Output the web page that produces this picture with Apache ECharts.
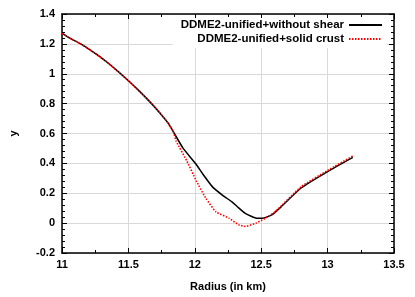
<!DOCTYPE html>
<html><head><meta charset="utf-8">
<script src="https://cdn.jsdelivr.net/npm/echarts@6/dist/echarts.min.js"></script>
<style>html,body{margin:0;padding:0;background:#fff}#c{width:415px;height:297px}</style>
</head><body><div id="c"></div>
<script>
const seriesNames = ['DDME2-unified+without shear', 'DDME2-unified+solid crust'];
const blackX = [11.0, 11.059, 11.134, 11.208, 11.282, 11.356, 11.43, 11.504, 11.579, 11.653, 11.727, 11.80, 11.838, 11.91, 12.01, 12.06, 12.135, 12.21, 12.28, 12.32, 12.38, 12.47, 12.51, 12.58, 12.65, 12.80, 13.0, 13.19];
const blackY = [1.27, 1.238, 1.203, 1.162, 1.116, 1.065, 1.009, 0.950, 0.887, 0.820, 0.748, 0.669, 0.612, 0.504, 0.394, 0.329, 0.241, 0.186, 0.142, 0.110, 0.065, 0.032, 0.032, 0.055, 0.109, 0.235, 0.345, 0.44];
const redX = [11.0, 11.059, 11.134, 11.208, 11.282, 11.356, 11.43, 11.504, 11.579, 11.653, 11.727, 11.80, 11.838, 11.86, 11.94, 12.01, 12.085, 12.16, 12.26, 12.33, 12.38, 12.46, 12.53, 12.605, 12.80, 13.0, 13.19];
const redY = [1.27, 1.238, 1.203, 1.162, 1.116, 1.065, 1.009, 0.950, 0.887, 0.820, 0.748, 0.669, 0.612, 0.548, 0.417, 0.285, 0.164, 0.076, 0.032, -0.011, -0.022, 0.0, 0.032, 0.076, 0.243, 0.352, 0.45];
const xTicks = [11, 11.5, 12, 12.5, 13, 13.5];
const yTicks = [-0.2, 0, 0.2, 0.4, 0.6, 0.8, 1, 1.2, 1.4];

const font = 'Liberation Sans';
const chart = echarts.init(document.getElementById('c'), null, {renderer: 'canvas'});
const zip = (xs, ys) => xs.map((x, i) => [x, ys[i]]);
const axisCommon = {
  type: 'value',
  axisLine: {show: true, onZero: false, lineStyle: {color: '#000', width: 1.5}},
  axisTick: {show: true, inside: true, length: 5, lineStyle: {color: '#000', width: 1}},
  minorTick: {show: true, length: 3, lineStyle: {color: '#000', width: 1}},
};
chart.setOption({
  animation: false,
  backgroundColor: '#fff',
  grid: {left: 57, top: 14, right: 21, bottom: 40},
  legend: {
    show: true,
    right: 28, top: 18,
    orient: 'vertical',
    align: 'right',
    itemGap: 2,
    itemWidth: 33, itemHeight: 11,
    padding: [1, 4, 3, 8],
    backgroundColor: '#fff',
    itemStyle: {opacity: 0},
    textStyle: {fontFamily: font, fontWeight: 'bold', fontSize: 11.5, color: '#000'},
    data: seriesNames
  },
  xAxis: [
    Object.assign({}, axisCommon, {
      position: 'bottom', min: xTicks[0], max: xTicks[xTicks.length - 1], interval: 0.5,
      minorTick: Object.assign({}, axisCommon.minorTick, {splitNumber: 2}),
      name: 'Radius (in km)', nameLocation: 'middle', nameGap: 28,
      nameTextStyle: {fontFamily: font, fontWeight: 'bold', fontSize: 11, color: '#000'},
      axisLabel: {fontFamily: font, fontWeight: 'bold', fontSize: 11, color: '#000', margin: 6,
        formatter: v => String(+v.toFixed(2))},
      splitLine: {show: true, lineStyle: {color: '#d9d9d9', width: 1}}
    }),
    Object.assign({}, axisCommon, {
      position: 'top', min: xTicks[0], max: xTicks[xTicks.length - 1], interval: 0.5,
      minorTick: Object.assign({}, axisCommon.minorTick, {splitNumber: 2}),
      axisLabel: {show: false}, splitLine: {show: false}
    })
  ],
  yAxis: [
    Object.assign({}, axisCommon, {
      position: 'left', min: yTicks[0], max: yTicks[yTicks.length - 1], interval: 0.2,
      minorTick: Object.assign({}, axisCommon.minorTick, {splitNumber: 5}),
      name: 'y', nameLocation: 'middle', nameGap: 43, nameRotate: 90,
      nameTextStyle: {fontFamily: font, fontWeight: 'bold', fontSize: 11, color: '#000'},
      axisLabel: {fontFamily: font, fontWeight: 'bold', fontSize: 11, color: '#000', margin: 7,
        formatter: v => String(+v.toFixed(2))},
      splitLine: {show: true, lineStyle: {color: '#d9d9d9', width: 1}}
    }),
    Object.assign({}, axisCommon, {
      position: 'right', min: yTicks[0], max: yTicks[yTicks.length - 1], interval: 0.2,
      minorTick: Object.assign({}, axisCommon.minorTick, {splitNumber: 5}),
      axisLabel: {show: false}, splitLine: {show: false}
    })
  ],
  series: [
    {name: seriesNames[0], type: 'line', data: zip(blackX, blackY), symbol: 'none', smooth: 0.15,
      lineStyle: {color: '#000', width: 1.5}, itemStyle: {color: '#000'}, z: 3},
    {name: seriesNames[1], type: 'line', data: zip(redX, redY), symbol: 'none', smooth: 0.15,
      lineStyle: {color: '#ff0000', width: 1.6, type: [1.5, 1.5]}, itemStyle: {color: '#ff0000'}, z: 4}
  ]
});
</script></body></html>
